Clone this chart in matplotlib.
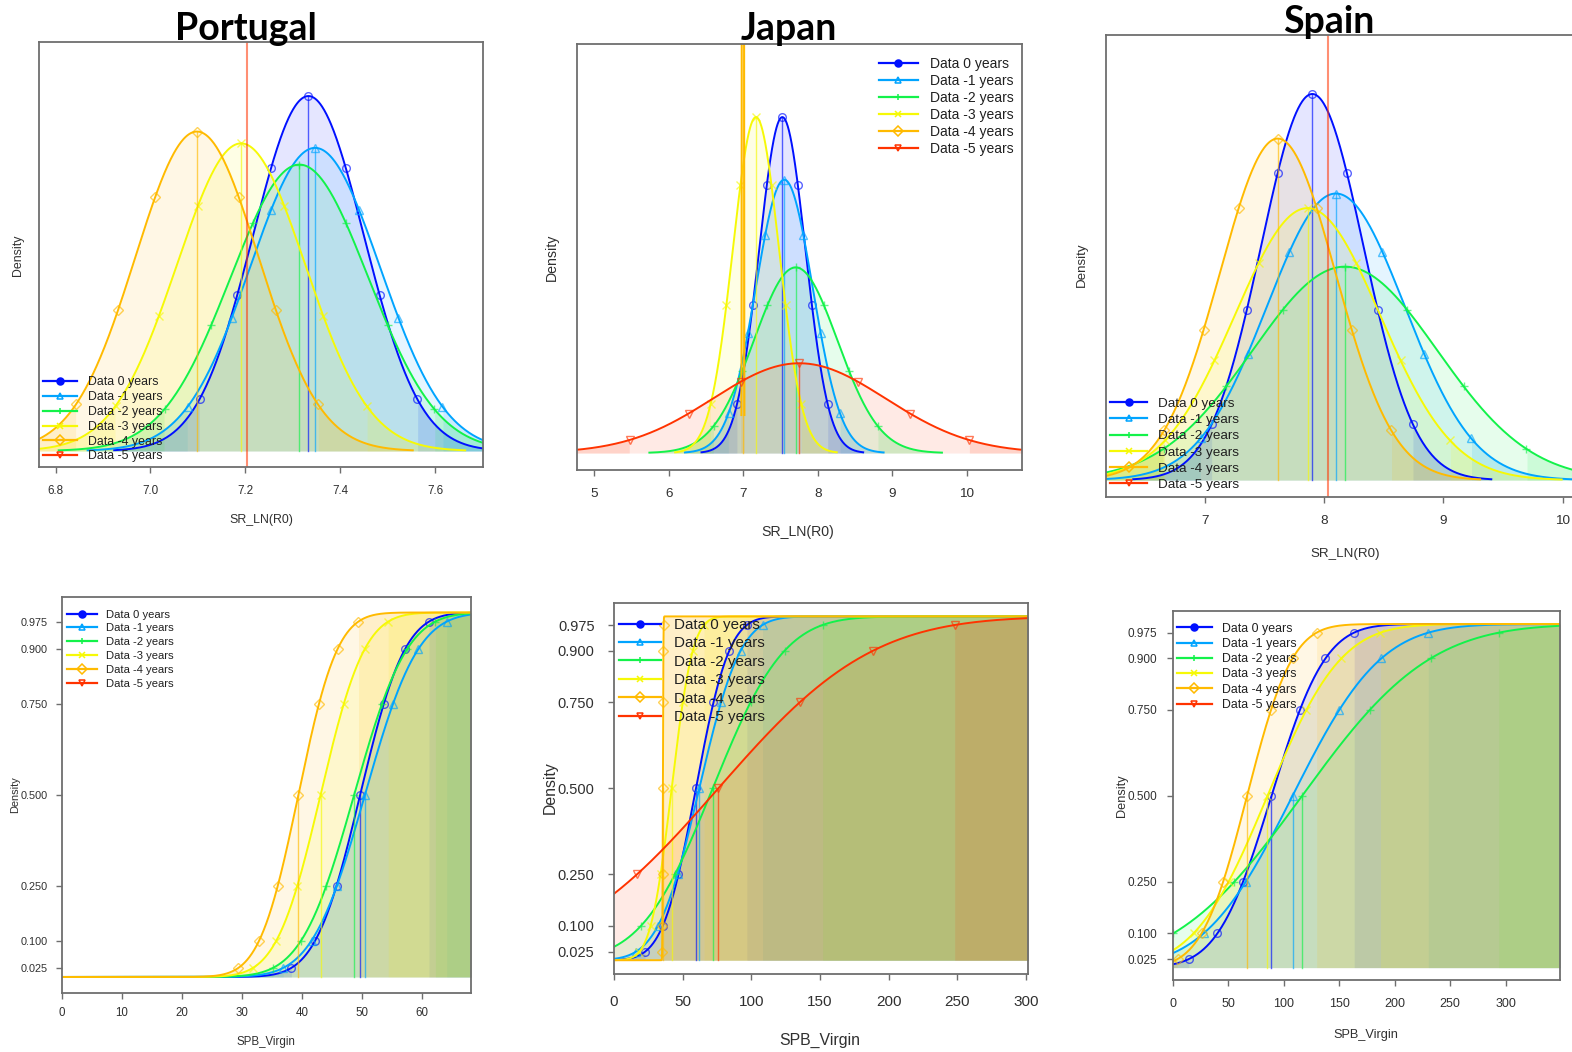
import math
import numpy as np
import matplotlib
matplotlib.use("Agg")
import matplotlib.pyplot as plt
from matplotlib.lines import Line2D

plt.rcParams['font.family'] = ['Liberation Sans', 'DejaVu Sans']

# Series shared by all panels
series = ["Data 0 years", "Data -1 years", "Data -2 years",
          "Data -3 years", "Data -4 years", "Data -5 years"]
colors = ["#0010FF", "#00A4FF", "#13F24A", "#F6F906", "#FFBA00", "#FF3300"]
markers = ['o', '^', '+', 'x', 'D', 'v']

# quantile levels marked on each curve (and their standard normal z)
q_levels = [0.025, 0.1, 0.25, 0.5, 0.75, 0.9, 0.975]
q_z = np.array([-1.959964, -1.281552, -0.674490, 0.0, 0.674490, 1.281552, 1.959964])

# SR_LN(R0): estimate and std. error (sd 0 = fixed)
pt_r0_mean = [7.333, 7.347, 7.314, 7.191, 7.098, 7.204]
pt_r0_sd = [0.117, 0.137, 0.145, 0.135, 0.130, 0.0]
jp_r0_mean = [7.524, 7.550, 7.703, 7.170, 6.995, 7.752]
jp_r0_sd = [0.310, 0.381, 0.561, 0.310, 0.006, 1.160]
es_r0_mean = [7.900, 8.098, 8.174, 7.860, 7.610, 8.036]
es_r0_sd = [0.429, 0.578, 0.776, 0.609, 0.485, 0.0]

# SPB_Virgin: estimate and std. error
pt_spb_mean = [49.7, 50.5, 48.7, 43.1, 39.4, np.nan]
pt_spb_sd = [5.85, 6.95, 6.9, 5.75, 5.1, np.nan]
jp_spb_mean = [59.7, 62.1, 71.9, 42.0, 35.6, 76.0]
jp_spb_sd = [18.9, 23.5, 40.8, 12.0, 0.3, 87.8]
es_spb_mean = [88.8, 107.8, 116.4, 85.2, 66.8, np.nan]
es_spb_sd = [38.0, 62.5, 90.5, 52.0, 32.0, np.nan]

W, H = 1572, 1052
fig = plt.figure(figsize=(W / 100, H / 100), dpi=100)
TICK_LEN = 4.0   # points (~5.5 px)


def px_axes(l, t, r, b):
    return fig.add_axes([l / W, 1 - b / H, (r - l) / W, (b - t) / H])


def ftext(x, y, s, **kw):
    kw.setdefault('ha', 'center')
    kw.setdefault('va', 'center')
    fig.text(x / W, 1 - y / H, s, **kw)


def norm_pdf(x, m, s):
    return np.exp(-0.5 * ((x - m) / s) ** 2) / (s * math.sqrt(2 * math.pi))


_erf = np.vectorize(math.erf)


def norm_cdf(x, m, s):
    return 0.5 * (1 + _erf((x - m) / (s * math.sqrt(2))))


def style_axes(ax, xlim, ylim, xticks, xticklabels, fs, pad):
    ax.set_xlim(xlim)
    ax.set_ylim(ylim)
    ax.set_xticks(xticks)
    ax.set_xticklabels(xticklabels)
    for sp in ax.spines.values():
        sp.set_color('#6e6e6e')
        sp.set_linewidth(1.3)
    ax.tick_params(axis='x', direction='out', length=TICK_LEN, width=1,
                   color='#6e6e6e', labelcolor='#303030', labelsize=fs, pad=pad)


def add_legend(ax, x0, top, fs, ls, hl, tp):
    handles = []
    for c, mk in zip(colors, markers):
        handles.append(Line2D([], [], color=c, lw=1.6, marker=mk, ms=5,
                              mfc=(c if mk == 'o' else 'none'), mec=c, mew=1.1))
    ax.legend(handles, series, loc='upper left',
              bbox_to_anchor=(x0 / W, 1 - top / H), bbox_transform=fig.transFigure,
              frameon=False, fontsize=fs, labelspacing=ls, handlelength=hl,
              handletextpad=tp, borderpad=0, borderaxespad=0, labelcolor='#202020')


def density_panel(ax, means, sds):
    for i, (m, s) in enumerate(zip(means, sds)):
        c = colors[i]
        if np.isnan(m):
            continue
        if s == 0:
            ax.axvline(m, color=c, lw=1.5, alpha=0.55)
            continue
        x = np.linspace(m - 3.5 * s, m + 3.5 * s, 700)
        y = norm_pdf(x, m, s)
        ax.fill_between(x, 0, y, color=c, alpha=0.1, lw=0)
        lo = x <= m + q_z[0] * s
        hi = x >= m + q_z[-1] * s
        ax.fill_between(x[lo], 0, y[lo], color=c, alpha=0.12, lw=0)
        ax.fill_between(x[hi], 0, y[hi], color=c, alpha=0.12, lw=0)
        ax.plot(x, y, color=c, lw=1.4)
        ax.plot([m, m], [0, norm_pdf(m, m, s)], color=c, lw=1.0, alpha=0.65)
        qx = m + q_z * s
        ax.plot(qx, norm_pdf(qx, m, s), ls='none', marker=markers[i], ms=5.5,
                mfc='none', mec=c, mew=1.0, alpha=0.65)
    ax.set_yticks([])


def cdf_panel(ax, means, sds, xmax):
    for i, (m, s) in enumerate(zip(means, sds)):
        c = colors[i]
        if np.isnan(m):
            continue
        x = np.linspace(0, xmax, 3000)
        y = norm_cdf(x, m, s)
        ax.fill_between(x, 0, y, color=c, alpha=0.1, lw=0)
        lo = x <= m + q_z[0] * s
        hi = x >= m + q_z[-1] * s
        if lo.any():
            ax.fill_between(x[lo], 0, y[lo], color=c, alpha=0.12, lw=0)
        if hi.any():
            ax.fill_between(x[hi], 0, y[hi], color=c, alpha=0.12, lw=0)
        ax.plot(x, y, color=c, lw=1.4)
        ax.plot([m, m], [0, 0.5], color=c, lw=1.0, alpha=0.65)
        qx = m + q_z * s
        ax.plot(qx, q_levels, ls='none', marker=markers[i], ms=5.5,
                mfc='none', mec=c, mew=1.0, alpha=0.65)


def cdf_yaxis(ax, fs, pad):
    ax.set_yticks(q_levels)
    ax.set_yticklabels(["%.3f" % v for v in q_levels])
    ax.tick_params(axis='y', direction='out', length=TICK_LEN, width=1,
                   color='#6e6e6e', labelcolor='#303030', labelsize=fs, pad=pad)


# ---- Portugal, SR_LN(R0)
ax = px_axes(39, 42, 483, 467)
density_panel(ax, pt_r0_mean, pt_r0_sd)
style_axes(ax, (6.765, 7.701), (-0.154, 3.929), [6.8, 7.0, 7.2, 7.4, 7.6],
           ["6.8", "7.0", "7.2", "7.4", "7.6"], 8.4, 9)
add_legend(ax, 43, 376.5, 8.9, 0.225, 2.75, 0.89)
ftext(261, 520, "SR_LN(R0)", fontsize=8.9, color='#303030')
ftext(18, 255, "Density", fontsize=8.9, rotation=90, color='#303030')

# ---- Japan, SR_LN(R0)
ax = px_axes(577, 44, 1022, 470)
density_panel(ax, jp_r0_mean, jp_r0_sd)
style_axes(ax, (4.768, 10.741), (-0.065, 1.567), [5, 6, 7, 8, 9, 10],
           ["5", "6", "7", "8", "9", "10"], 9.7, 9)
add_legend(ax, 879, 57, 10.0, 0.22, 2.8, 0.86)
ftext(798, 532, "SR_LN(R0)", fontsize=10.2, color='#303030')
ftext(552, 257, "Density", fontsize=10.2, rotation=90, color='#303030')

# ---- Spain, SR_LN(R0)  (box runs off the right edge)
ax = px_axes(1106, 35, 1600, 496.7)
density_panel(ax, es_r0_mean, es_r0_sd)
style_axes(ax, (6.170, 10.313), (-0.040, 1.072), [7, 8, 9, 10],
           ["7", "8", "9", "10"], 9.7, 9)
add_legend(ax, 1110, 397.5, 9.7, 0.28, 2.76, 0.82)
ftext(1345, 554, "SR_LN(R0)", fontsize=9.6, color='#303030')
ftext(1082, 265, "Density", fontsize=9.6, rotation=90, color='#303030')

# ---- Portugal, SPB_Virgin
ax = px_axes(62, 597, 471, 993)
cdf_panel(ax, pt_spb_mean, pt_spb_sd, 68.17)
style_axes(ax, (0, 68.17), (-0.044, 1.0425), list(range(0, 61, 10)),
           [str(v) for v in range(0, 61, 10)], 8.3, 6.3)
cdf_yaxis(ax, 7.8, 6.5)
add_legend(ax, 67, 609.5, 8.1, 0.34, 2.65, 0.8)
ftext(266, 1042, "SPB_Virgin", fontsize=8.3, color='#303030')
ftext(15, 795, "Density", fontsize=7.9, rotation=90, color='#303030')

# ---- Japan, SPB_Virgin
ax = px_axes(614, 603, 1028, 974)
cdf_panel(ax, jp_spb_mean, jp_spb_sd, 301.5)
style_axes(ax, (0, 301.5), (-0.040, 1.039), list(range(0, 301, 50)),
           [str(v) for v in range(0, 301, 50)], 11, 11)
cdf_yaxis(ax, 10.5, 10)
add_legend(ax, 619, 618, 10.9, 0.29, 2.76, 0.86)
ftext(820, 1040, "SPB_Virgin", fontsize=11.4, color='#303030')
ftext(550, 788, "Density", fontsize=11.4, rotation=90, color='#303030')

# ---- Spain, SPB_Virgin
ax = px_axes(1173, 611, 1560, 980)
cdf_panel(ax, es_spb_mean, es_spb_sd, 349)
style_axes(ax, (0, 349), (-0.036, 1.038), list(range(0, 301, 50)),
           [str(v) for v in range(0, 301, 50)], 9, 8.8)
cdf_yaxis(ax, 8.5, 7.2)
add_legend(ax, 1177, 622.8, 8.9, 0.26, 2.8, 0.8)
ftext(1366, 1035, "SPB_Virgin", fontsize=9.2, color='#303030')
ftext(1122, 796, "Density", fontsize=9.2, rotation=90, color='#303030')

# country titles
for name, cx, base in [("Portugal", 245.5, 39.5), ("Japan", 789, 40), ("Spain", 1328.5, 33)]:
    ftext(cx, base, name, fontsize=27, fontweight='bold', family='Lato',
          va='baseline', color='black')

fig.savefig("out.png", dpi=100, facecolor='white')
